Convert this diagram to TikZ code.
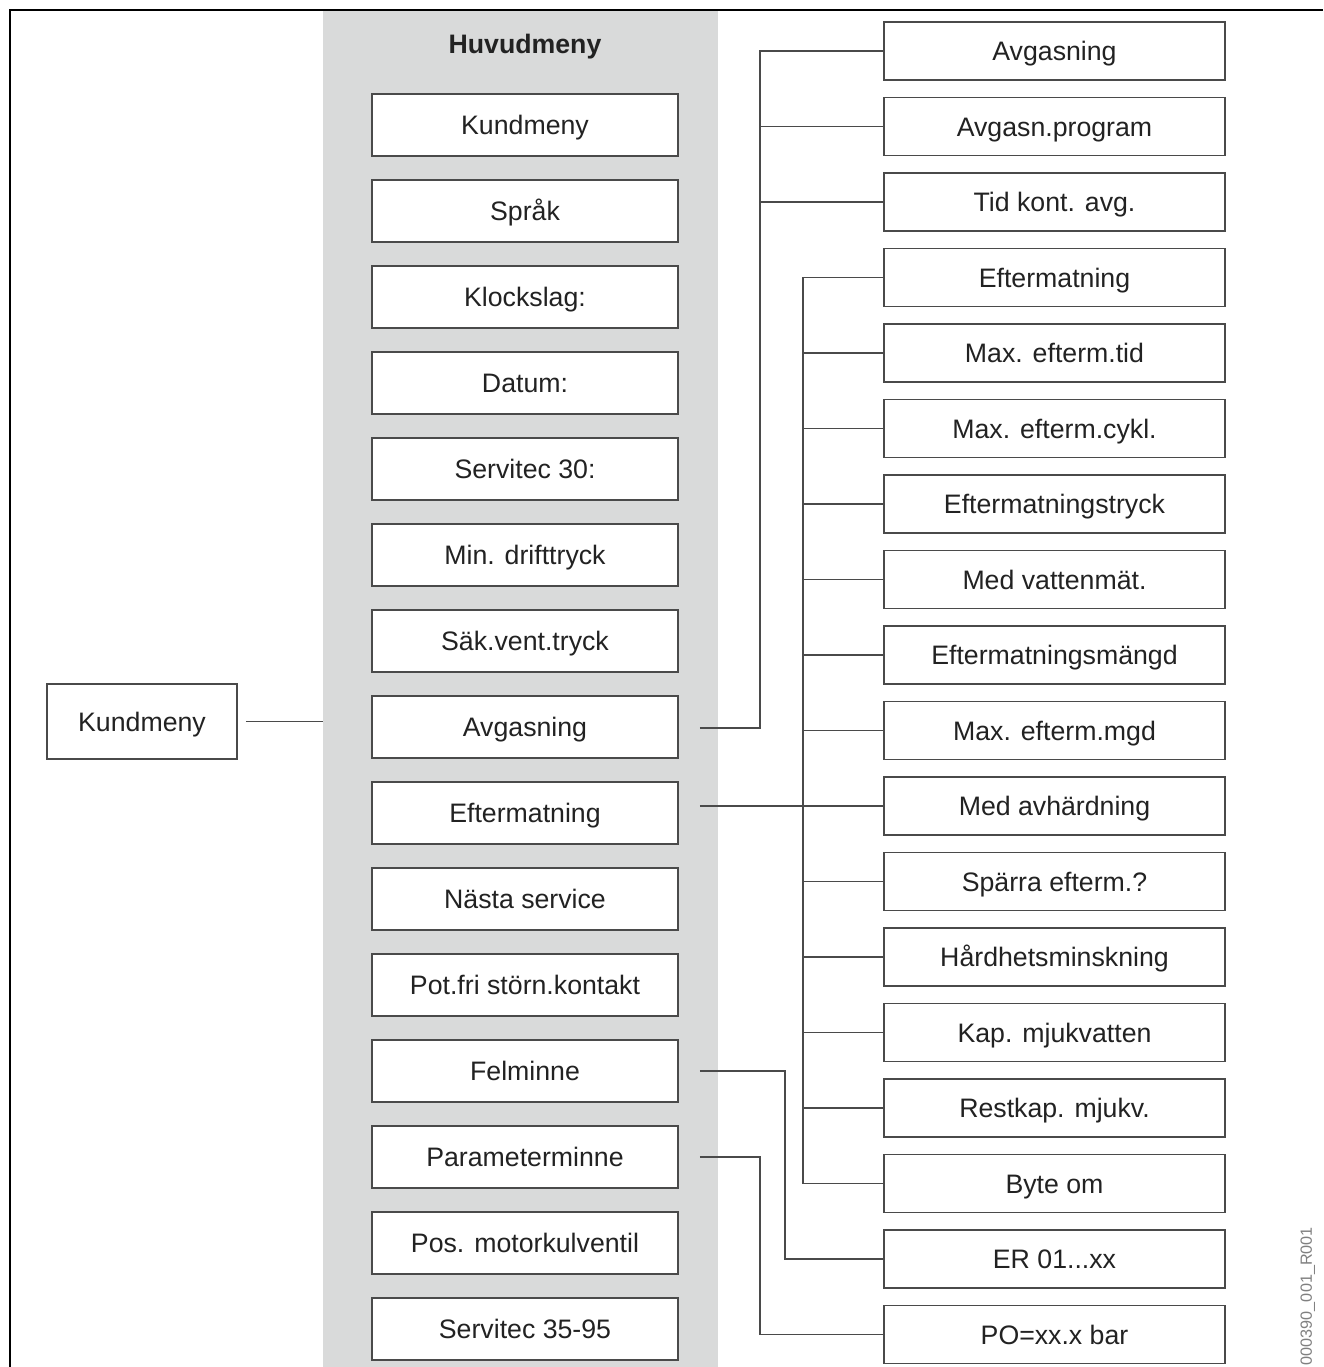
\documentclass[tikz,border=0pt]{standalone}
\usepackage{fontspec}
\setmainfont{Liberation Sans}
\definecolor{panelc}{HTML}{D9DADA}
\definecolor{boxc}{HTML}{4A4A4A}
\definecolor{txtc}{HTML}{222222}
\definecolor{linec}{HTML}{4A4A4A}
\begin{document}
\begin{tikzpicture}[x=1pt,y=-1pt,
  font=\fontsize{26.7}{30}\selectfont,
  every node/.style={text height=19.1pt, text depth=0pt},
  mbox/.style={draw=boxc, line width=1.5pt, fill=white, minimum width=306pt, minimum height=62pt, inner sep=0pt, text=txtc},
  rbox/.style={draw=boxc, line width=1.5pt, fill=white, minimum width=341pt, minimum height=58pt, inner sep=0pt, text=txtc},
  conn/.style={draw=linec, line width=1.5pt}]
\useasboundingbox (0,0) rectangle (1323,1367);
\fill[panelc] (323,11) rectangle (718,1367);
\draw[line width=1.5pt] (10,1367) -- (10,10) -- (1323,10);
\node[text=txtc, font=\fontsize{26.7}{30}\selectfont\bfseries] (hm) at (525,44) {Huvudmeny};
\foreach \t [count=\i] in {Kundmeny, Språk, Klockslag:, Datum:, Servitec 30:, Min. drifttryck, Säk.vent.tryck, Avgasning, Eftermatning, Nästa service, Pot.fri störn.kontakt, Felminne, Parameterminne, Pos. motorkulventil, Servitec 35-95}
  \node[mbox] (m\i) at (525,{125+86*(\i-1)}) {\t};
\foreach \t [count=\i] in {Avgasning, Avgasn.program, Tid kont. avg., Eftermatning, Max. efterm.tid, Max. efterm.cykl., Eftermatningstryck, Med vattenmät., Eftermatningsmängd, Max. efterm.mgd, Med avhärdning, Spärra efterm.?, Hårdhetsminskning, Kap. mjukvatten, Restkap. mjukv., Byte om}
  \node[rbox] (r\i) at (1054.5,{51+75.5*(\i-1)}) {\t};
\node[rbox] (r17) at (1054.5,1259) {ER 01...xx};
\node[rbox] (r18) at (1054.5,1334.5) {PO=xx.x bar};
\node[draw=boxc, line width=1.5pt, minimum width=190pt, minimum height=75pt, inner sep=0pt, text=txtc] (k) at (142,721.5) {Kundmeny};
\node[rotate=90, anchor=east, inner sep=0pt, text=gray, text height=11.6pt, font=\fontsize{16.2}{18}\selectfont] (id) at (1306,1227) {000390\_001\_R001};
\coordinate (pl) at (323,0);
\coordinate (va) at (760,0);
\coordinate (ve) at (803,0);
\coordinate (vf) at (785,0);
\coordinate (e8) at ([xshift=21pt]m8.east);
\coordinate (e9) at ([xshift=21pt]m9.east);
\coordinate (e12) at ([xshift=21pt]m12.east);
\coordinate (e13) at ([xshift=21pt]m13.east);
\draw[conn] ([xshift=8pt]k.east) -- (pl |- k.east);
\draw[conn] ([yshift=-1pt]e8) -| (va |- r1.west) -- (r1.west);
\draw[conn] (va |- r2.west) -- (r2.west);
\draw[conn] (va |- r3.west) -- (r3.west);
\draw[conn] (r4.west) -- (ve |- r4.west) -- (ve |- r16.west) -- (r16.west);
\foreach \i in {5,...,15} \draw[conn] (ve |- r\i.west) -- (r\i.west);
\draw[conn] (e9 |- r11.west) -- (r11.west);
\draw[conn] (e12) -| (vf |- r17.west) -- (r17.west);
\draw[conn] (e13) -| (va |- r18.west) -- (r18.west);
\end{tikzpicture}
\end{document}
